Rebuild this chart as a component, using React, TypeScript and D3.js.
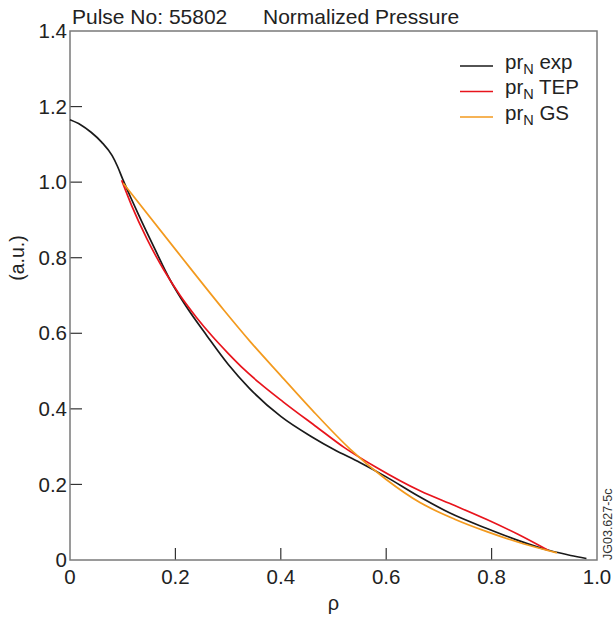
import React from "react";
import * as d3 from "d3";

const rhoExp = [0, 0.02, 0.04, 0.06, 0.08, 0.09, 0.1, 0.115, 0.13, 0.16, 0.19, 0.22, 0.26, 0.3, 0.34, 0.4, 0.46, 0.5, 0.55, 0.6, 0.66, 0.72, 0.79, 0.85, 0.91, 0.95, 0.98];
const prExp = [1.165, 1.152, 1.132, 1.106, 1.07, 1.042, 1.008, 0.96, 0.914, 0.826, 0.741, 0.672, 0.593, 0.518, 0.455, 0.38, 0.325, 0.293, 0.258, 0.22, 0.17, 0.125, 0.084, 0.052, 0.025, 0.012, 0.004];

const rhoTep = [0.098, 0.117, 0.146, 0.177, 0.209, 0.24, 0.27, 0.3, 0.33, 0.36, 0.405, 0.468, 0.52, 0.58, 0.664, 0.73, 0.791, 0.85, 0.908];
const prTep = [1.005, 0.938, 0.85, 0.77, 0.7, 0.642, 0.592, 0.547, 0.505, 0.468, 0.418, 0.352, 0.298, 0.246, 0.183, 0.144, 0.107, 0.068, 0.025];

const rhoGs = [0.101, 0.2, 0.291, 0.342, 0.4, 0.46, 0.532, 0.6, 0.664, 0.73, 0.791, 0.86, 0.924];
const prGs = [0.997, 0.822, 0.663, 0.578, 0.488, 0.396, 0.293, 0.213, 0.152, 0.108, 0.075, 0.043, 0.019];

const xTicks = [0, 0.2, 0.4, 0.6, 0.8, 1.0];
const xTickLabels = ["0", "0.2", "0.4", "0.6", "0.8", "1.0"];
const yTicks = [0, 0.2, 0.4, 0.6, 0.8, 1.0, 1.2, 1.4];
const yTickLabels = ["0", "0.2", "0.4", "0.6", "0.8", "1.0", "1.2", "1.4"];

const seriesNames = ["exp", "TEP", "GS"];
const seriesColors = ["#1a1a1a", "#e8141c", "#f39a1e"];

const FONT = "'Liberation Sans', Arial, Helvetica, sans-serif";

export default function App() {
  const x = d3.scaleLinear().domain([0, 1]).range([70, 597]);
  const y = d3.scaleLinear().domain([0, 1.4]).range([560, 31]);
  const line = d3
    .line<[number, number]>()
    .x((d) => x(d[0]))
    .y((d) => y(d[1]))
    .curve(d3.curveMonotoneX);

  const series = [
    d3.zip(rhoExp, prExp) as [number, number][],
    d3.zip(rhoTep, prTep) as [number, number][],
    d3.zip(rhoGs, prGs) as [number, number][],
  ];

  const axisColor = "#7a7a7a";
  const tickColor = "#333";
  const fs = 20.5;

  return (
    <svg
      width={614}
      height={617}
      style={{ position: "absolute", left: 0, top: 0, background: "#fff" }}
      fontFamily={FONT}
    >
      <rect x={0} y={0} width={614} height={617} fill="#fff" />
      {/* title */}
      <text x={72} y={24} fontSize={21} fill="#222">
        Pulse No: 55802
      </text>
      <text x={263} y={24} fontSize={21} fill="#222">
        Normalized Pressure
      </text>

      {/* ticks */}
      {yTicks.slice(1, -1).map((t) => (
        <line key={"yt" + t} x1={x(0)} x2={x(0) + 12} y1={y(t)} y2={y(t)} stroke={tickColor} strokeWidth={1.2} />
      ))}
      {xTicks.slice(1, -1).map((t) => (
        <line key={"xt" + t} x1={x(t)} x2={x(t)} y1={y(0)} y2={y(0) - 12} stroke={tickColor} strokeWidth={1.2} />
      ))}

      {/* frame */}
      <rect
        x={x(0)}
        y={y(1.4)}
        width={x(1) - x(0)}
        height={y(0) - y(1.4)}
        fill="none"
        stroke={axisColor}
        strokeWidth={1.5}
      />

      {/* y tick labels */}
      {yTicks.map((t, i) => (
        <text key={"yl" + t} x={67} y={y(t)} dy="0.35em" fontSize={fs} textAnchor="end" fill="#222">
          {yTickLabels[i]}
        </text>
      ))}
      {/* x tick labels */}
      {xTicks.map((t, i) => (
        <text key={"xl" + t} x={x(t)} y={584} fontSize={fs} textAnchor="middle" fill="#222">
          {xTickLabels[i]}
        </text>
      ))}

      {/* axis titles */}
      <text x={x(0.5)} y={610} fontSize={20} textAnchor="middle" fill="#222">
        ρ
      </text>
      <text transform="translate(24,258) rotate(-90)" fontSize={19.5} textAnchor="middle" fill="#222">
        (a.u.)
      </text>

      {/* curves */}
      {series.map((s, i) => (
        <path key={"s" + i} d={line(s) || ""} fill="none" stroke={seriesColors[i]} strokeWidth={1.7} />
      ))}

      {/* legend */}
      {seriesNames.map((n, i) => (
        <g key={"lg" + i}>
          <line x1={460} x2={493} y1={66 + i * 25.5} y2={66 + i * 25.5} stroke={seriesColors[i]} strokeWidth={1.3} />
          <text x={505} y={68.5 + i * 25.5} fontSize={fs} fill="#222">
            pr
            <tspan fontSize={14.5} dy={5}>N</tspan>
            <tspan dy={-5}> {n}</tspan>
          </text>
        </g>
      ))}

      {/* figure id */}
      <text transform="translate(612,560) rotate(-90)" fontSize={12.5} fill="#333">
        JG03.627-5c
      </text>
    </svg>
  );
}
